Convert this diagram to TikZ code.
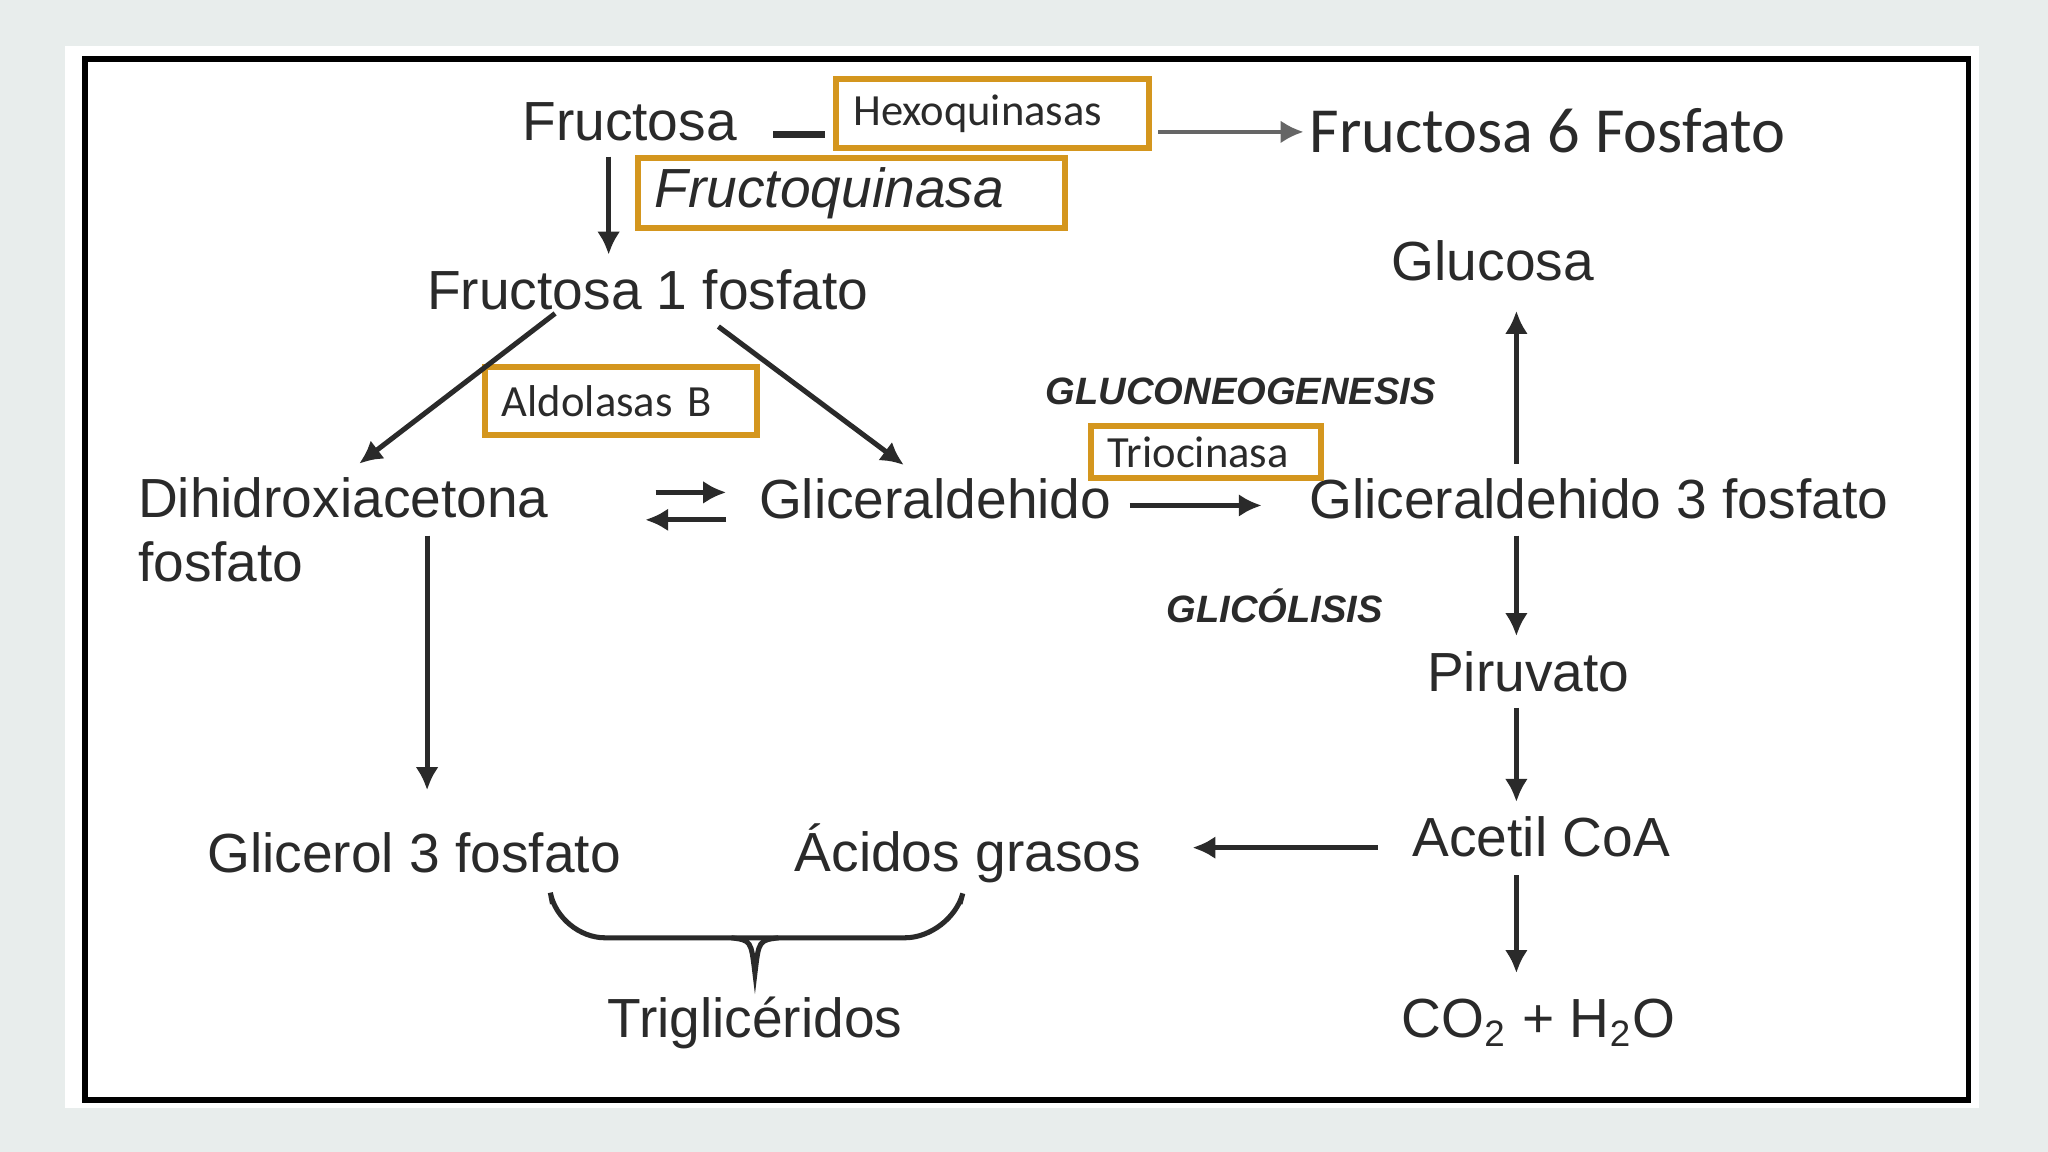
\documentclass[tikz,border=0pt]{standalone}
\usepackage{fontspec}
\setmainfont{Liberation Sans}
\newfontfamily\calib{Carlito}
\usetikzlibrary{arrows.meta}
\definecolor{bgGray}{HTML}{E8EDEC}
\definecolor{boxOrange}{HTML}{D4961E}
\definecolor{txtGray}{HTML}{2A2A2A}
\tikzset{
    met/.style={font=\fontsize{12}{14}\selectfont, text=txtGray, inner sep=0pt},
    enz/.style={draw=boxOrange, line width=1.3pt, font=\calib\fontsize{9.7}{11}\selectfont, text=txtGray, anchor=north west, inner ysep=0pt, inner xsep=0.13cm, align=left},
    proc/.style={font=\bfseries\itshape\fontsize{8.3}{10}\selectfont, text=txtGray, inner sep=0pt},
    arr/.style={-{Latex[length=5pt,width=5pt]}, line width=1.1pt, txtGray},
}
\begin{document}
\begin{tikzpicture}[x=0.01cm, y=-0.01cm]
    % Background and frame
    \fill[bgGray] (0,0) rectangle (1568,882);
    \fill[white] (50,35) rectangle (1515,848);
    \draw[line width=1.2pt] (65,45) rectangle (1507,842);
    % Metabolites
    \node[met] (fru) at (482,93) {Fructosa};
    \node[met, font=\calib\fontsize{14}{16}\selectfont] (f6p) at (1185,100) {Fructosa 6 Fosfato};
    \node[met] (f1p) at (496,222) {Fructosa 1 fosfato};
    \node[met, align=left, anchor=north west] (dhap) at (105,365) {Dihidroxiacetona\\fosfato};
    \node[met] (gli) at (716,382) {Gliceraldehido};
    \node[met] (g3p) at (1224,382) {Gliceraldehido 3 fosfato};
    \node[met] (glu) at (1143,200) {Glucosa};
    \node[met] (pir) at (1170,514) {Piruvato};
    \node[met] (aco) at (1180,641) {Acetil CoA};
    \node[met] (co2) at (1178,783) {CO\textsubscript{2} + H\textsubscript{2}O};
    \node[met] (gl3p) at (317,653) {Glicerol 3 fosfato};
    \node[met] (acg) at (741,653) {Ácidos grasos};
    \node[met] (tri) at (578,783) {Triglicéridos};
    % Processes
    \node[proc] (gneo) at (950,300) {GLUCONEOGENESIS};
    \node[proc] (glic) at (976,464) {GLICÓLISIS};
    % Enzyme boxes
    \node[enz, text width=2.13cm, minimum height=0.53cm] (hexo) at (638,58) {Hexoquinasas};
    \node[enz, text width=3.01cm, minimum height=0.53cm, font=\itshape\fontsize{12}{14}\selectfont] (fquin) at (486,119) {Fructoquinasa};
    \node[enz, text width=1.82cm, minimum height=0.52cm] (aldo) at (369,279) {Aldolasas B};
    \node[enz, text width=1.50cm, minimum height=0.40cm] (trio) at (833,324) {Triocinasa};
    % Connector ends
    \coordinate (hexoA) at (592,103);
    \coordinate (hexoD) at (998,101);
    % Connectors
    \draw[line width=1.5pt, txtGray] (hexoA) -- (632,103);
    \draw[-{Latex[length=5pt,width=5pt]}, line width=0.8pt, gray!80!black] (hexo.east |- hexoD) ++(5,0) -- (hexoD);
    \draw[arr] (466,120) -- (466,195);
    \draw[arr] (425,240) -- (275,355);
    \draw[arr] (550,250) -- (692,356);
    \draw[arr] (502,377) -- (556,377);
    \draw[arr] (556,398) -- (494,398);
    \draw[arr] (865,387) -- (966,387);
    \draw[arr] (1161,355) -- (1161,238);
    \draw[arr] (1161,410) -- (1161,487);
    \draw[arr] (1161,542) -- (1161,614);
    \draw[arr] (1055,649) -- (913,649);
    \draw[arr] (1161,670) -- (1161,745);
    \draw[arr] (327,410) -- (327,605);
    % Brace
    \draw[line width=1.1pt, txtGray, rounded corners=10pt] (423,692) -- (428,718) -- (578,718) -- (728,718) -- (735,692);
    \draw[line width=1.1pt, txtGray] (560,718) .. controls (575,720) .. (578,745) .. controls (581,720) .. (596,718);
\end{tikzpicture}
\end{document}
